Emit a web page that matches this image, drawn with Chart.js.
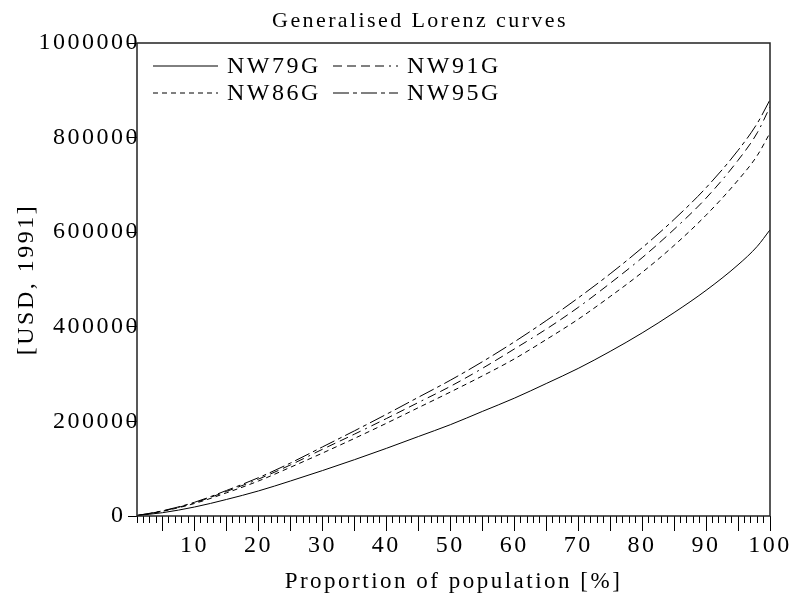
<!DOCTYPE html>
<html>
<head>
<meta charset="utf-8">
<script src="https://cdn.jsdelivr.net/npm/chart.js@4.4.0/dist/chart.umd.min.js"></script>
<style>
  html, body { margin: 0; padding: 0; background: #fff; }
</style>
</head>
<body>
<canvas id="lorenz" width="800" height="601"></canvas>
<script>
  // proportion of population (%) and generalised Lorenz ordinates (USD, 1991)
  const pct = [1, 5, 10, 15, 20, 25, 30, 35, 40, 45, 50, 55, 60, 65, 70, 75, 80, 85, 90, 95, 98, 100];
  const nw79g = [1000, 7000, 19000, 35000, 53000, 74000, 96000, 119000, 143000, 168000, 193000, 221000, 249000, 280000, 312000, 348000, 387000, 430000, 477000, 531000, 570000, 605000];
  const nw86g = [1000, 10000, 26500, 49000, 74000, 103000, 133000, 164000, 196000, 229000, 262000, 296000, 332000, 373000, 416000, 464000, 515000, 572000, 636000, 710000, 762000, 810000];
  const nw91g = [1000, 10500, 28000, 52000, 78000, 108000, 141000, 173000, 206000, 240000, 274000, 312000, 353000, 395000, 441000, 492000, 546000, 606000, 672000, 752000, 810000, 865000];
  const nw95g = [1000, 11000, 29000, 54000, 81000, 112000, 146000, 180000, 215000, 251000, 287000, 326000, 368000, 413000, 461000, 512000, 567000, 627000, 694000, 773000, 830000, 880000];
  const seriesNames = ['NW79G', 'NW86G', 'NW91G', 'NW95G'];
  const yTicks = [0, 200000, 400000, 600000, 800000, 1000000];

  const serif = '"Liberation Serif", "Times New Roman", serif';
  Chart.defaults.font.family = serif;
  Chart.defaults.color = '#000';

  const toPoints = vals => vals.map((v, i) => ({x: pct[i], y: v}));
  const dashes = [[], [5, 4], [9, 5, 9, 5, 9, 5, 9, 5, 2, 5], [16, 4, 4, 4]];

  // text in the original is spaced out a little
  const spacing = {
    id: 'spacing',
    beforeDraw(chart) { chart.ctx.letterSpacing = '2.5px'; }
  };

  // frame, title and 2x2 legend inside the plot
  const extras = {
    id: 'extras',
    afterDraw(chart) {
      const ctx = chart.ctx;
      const a = chart.chartArea;
      ctx.save();
      ctx.strokeStyle = '#222';
      ctx.lineWidth = 1.5;
      ctx.setLineDash([]);
      ctx.strokeRect(a.left, a.top, a.right - a.left, a.bottom - a.top);

      ctx.fillStyle = '#000';
      ctx.textBaseline = 'middle';
      ctx.textAlign = 'center';
      ctx.letterSpacing = '2.4px';
      ctx.font = '22px ' + serif;
      ctx.fillText('Generalised Lorenz curves', 420, 21);

      ctx.textAlign = 'left';
      ctx.letterSpacing = '2.5px';
      ctx.font = '24px ' + serif;
      chart.data.datasets.forEach((ds, i) => {
        const col = Math.floor(i / 2), row = i % 2;
        const x0 = 153 + col * 180;
        const y0 = 66 + row * 27;
        ctx.strokeStyle = '#000';
        ctx.lineWidth = 1;
        ctx.setLineDash(ds.borderDash || []);
        ctx.beginPath();
        ctx.moveTo(x0, y0);
        ctx.lineTo(x0 + 65, y0);
        ctx.stroke();
        ctx.fillText(ds.label, x0 + 74, y0 + 1);
      });
      ctx.restore();
    }
  };

  new Chart(document.getElementById('lorenz'), {
    type: 'line',
    data: {
      datasets: [
        {label: seriesNames[0], data: toPoints(nw79g), borderDash: dashes[0]},
        {label: seriesNames[1], data: toPoints(nw86g), borderDash: dashes[1]},
        {label: seriesNames[2], data: toPoints(nw91g), borderDash: dashes[2]},
        {label: seriesNames[3], data: toPoints(nw95g), borderDash: dashes[3]}
      ].map(ds => Object.assign(ds, {
        borderColor: '#000',
        borderWidth: 1,
        pointRadius: 0,
        fill: false,
        cubicInterpolationMode: 'monotone'
      }))
    },
    options: {
      responsive: false,
      animation: false,
      layout: {padding: {top: 43, right: 30, left: 0, bottom: 0}},
      plugins: {legend: {display: false}, title: {display: false}, tooltip: {enabled: false}},
      scales: {
        x: {
          type: 'linear',
          min: 1,
          max: 100,
          border: {display: false},
          grid: {
            drawOnChartArea: false,
            tickLength: 15,
            tickColor: '#000',
            tickWidth: 1,
            tickBorderDash: ctx => (ctx.tick && ctx.tick.value % 5 === 0) ? [] : [7, 30]
          },
          ticks: {
            stepSize: 1,
            autoSkip: false,
            maxRotation: 0,
            padding: 0,
            font: {size: 24},
            callback: v => v % 10 === 0 ? String(v) : ''
          },
          title: {
            display: true,
            text: 'Proportion of population [%]',
            font: {size: 23},
            padding: {top: 0, bottom: 5}
          },
          afterFit: s => { s.height = 85; }
        },
        y: {
          min: 0,
          max: 1000000,
          border: {display: false},
          grid: {drawOnChartArea: false, tickLength: 9, tickColor: '#000', tickWidth: 1},
          afterBuildTicks: s => { s.ticks = yTicks.map(v => ({value: v})); },
          ticks: {
            padding: -12,
            font: {size: 24},
            callback: v => v === 0 ? '0\u2002' : String(v)
          },
          title: {
            display: true,
            text: '[USD, 1991]',
            font: {size: 24},
            padding: {top: 12, bottom: 0}
          },
          afterFit: s => { s.width = 137; }
        }
      }
    },
    plugins: [spacing, extras]
  });
</script>
</body>
</html>
